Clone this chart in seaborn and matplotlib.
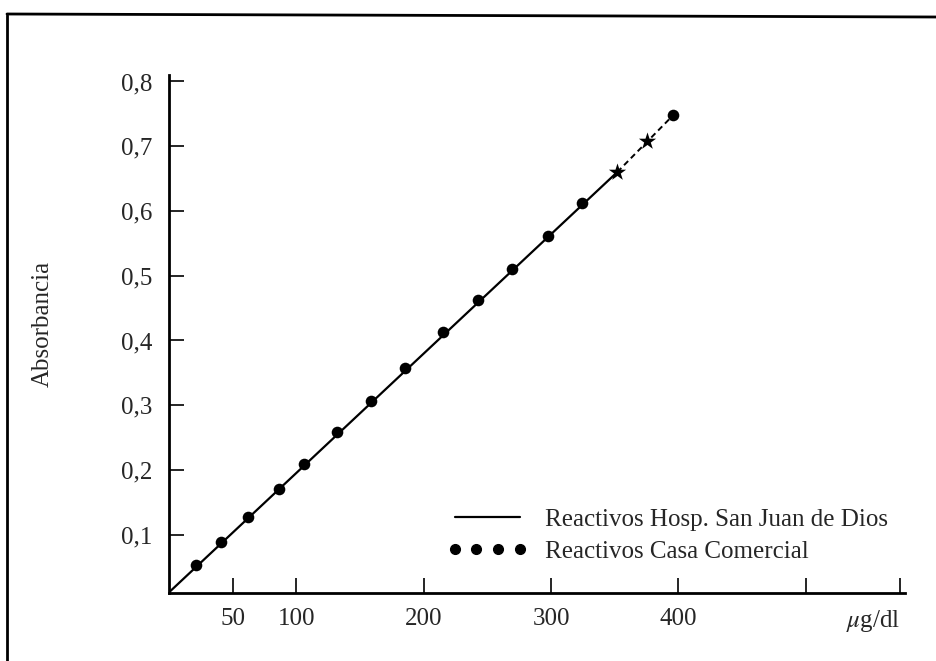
import matplotlib.pyplot as plt
import seaborn as sns
from matplotlib.lines import Line2D

# values
casa_x = [21, 41, 62, 86, 106, 132, 159, 185, 215, 243, 269, 298, 324, 396]
casa_y = [0.053, 0.088, 0.128, 0.170, 0.210, 0.258, 0.306, 0.357, 0.413, 0.462,
          0.511, 0.562, 0.613, 0.748]
star_x = [352, 375]
star_y = [0.660, 0.708]
hosp_x = [0, 352, 396]
hosp_y = [0.011, 0.660, 0.748]

xticks = [50, 100, 200, 300, 400, 500, 574]
xticklabels = ['50', '100', '200', '300', '400', '', r'$\mu$g/dl']
yticks = [0.1, 0.2, 0.3, 0.4, 0.5, 0.6, 0.7, 0.8]
yticklabels = ['0,1', '0,2', '0,3', '0,4', '0,5', '0,6', '0,7', '0,8']

sns.set_style('ticks')
plt.rcParams['font.family'] = ['Liberation Serif', 'DejaVu Serif']
plt.rcParams['mathtext.fontset'] = 'stix'

fig = plt.figure(figsize=(9.36, 6.61), dpi=100)
ax = fig.add_axes([169/936, 1-593/661, 736/936, 518/661])

# page border (top and left edges of the scanned sheet)
fig.add_artist(Line2D([7/936, 7/936], [0, 1-15/661], color='black', lw=2))
fig.add_artist(Line2D([7/936, 1], [1-14/661, 1-17/661], color='black', lw=2))

sns.lineplot(x=hosp_x[:2], y=hosp_y[:2], color='black', lw=1.6, ax=ax)
sns.lineplot(x=hosp_x[1:], y=hosp_y[1:], color='black', lw=1.4,
             linestyle=(0, (3, 2)), ax=ax)
sns.scatterplot(x=casa_x, y=casa_y, color='black', s=70, linewidth=0, ax=ax)
sns.scatterplot(x=star_x, y=star_y, color='black', marker='*', s=170,
                linewidth=0, ax=ax)

ax.set_xlim(0, 578)
ax.set_ylim(0.01, 0.81)
ax.set_xticks(xticks)
ax.set_xticklabels(xticklabels)
ax.get_xticklabels()[-1].set_horizontalalignment('right')
ax.set_yticks(yticks)
ax.set_yticklabels(yticklabels)
ax.tick_params(axis='both', direction='in', length=11, width=1.2,
               labelsize=18, color='black')
ax.tick_params(axis='x', pad=11)
ax.tick_params(axis='y', pad=12)
for s in ['left', 'bottom']:
    ax.spines[s].set_linewidth(2)
    ax.spines[s].set_color('black')
sns.despine(ax=ax)

ax.set_xlabel('')
ax.set_ylabel('Absorbancia', fontsize=18)
ax.yaxis.set_label_coords(-0.157, 0.52)

handles = [Line2D([], [], color='black', lw=1.6),
           Line2D([], [], color='black', marker='o', markersize=7, linestyle='none')]
ax.legend(handles, ['Reactivos Hosp. San Juan de Dios', 'Reactivos Casa Comercial'],
          loc='upper left', bbox_to_anchor=(0.378, 0.164), frameon=False,
          fontsize=18, numpoints=4, handlelength=3.2, handletextpad=0.7,
          borderpad=0, borderaxespad=0, labelspacing=0.4)

plt.savefig('out.png', dpi=100)
